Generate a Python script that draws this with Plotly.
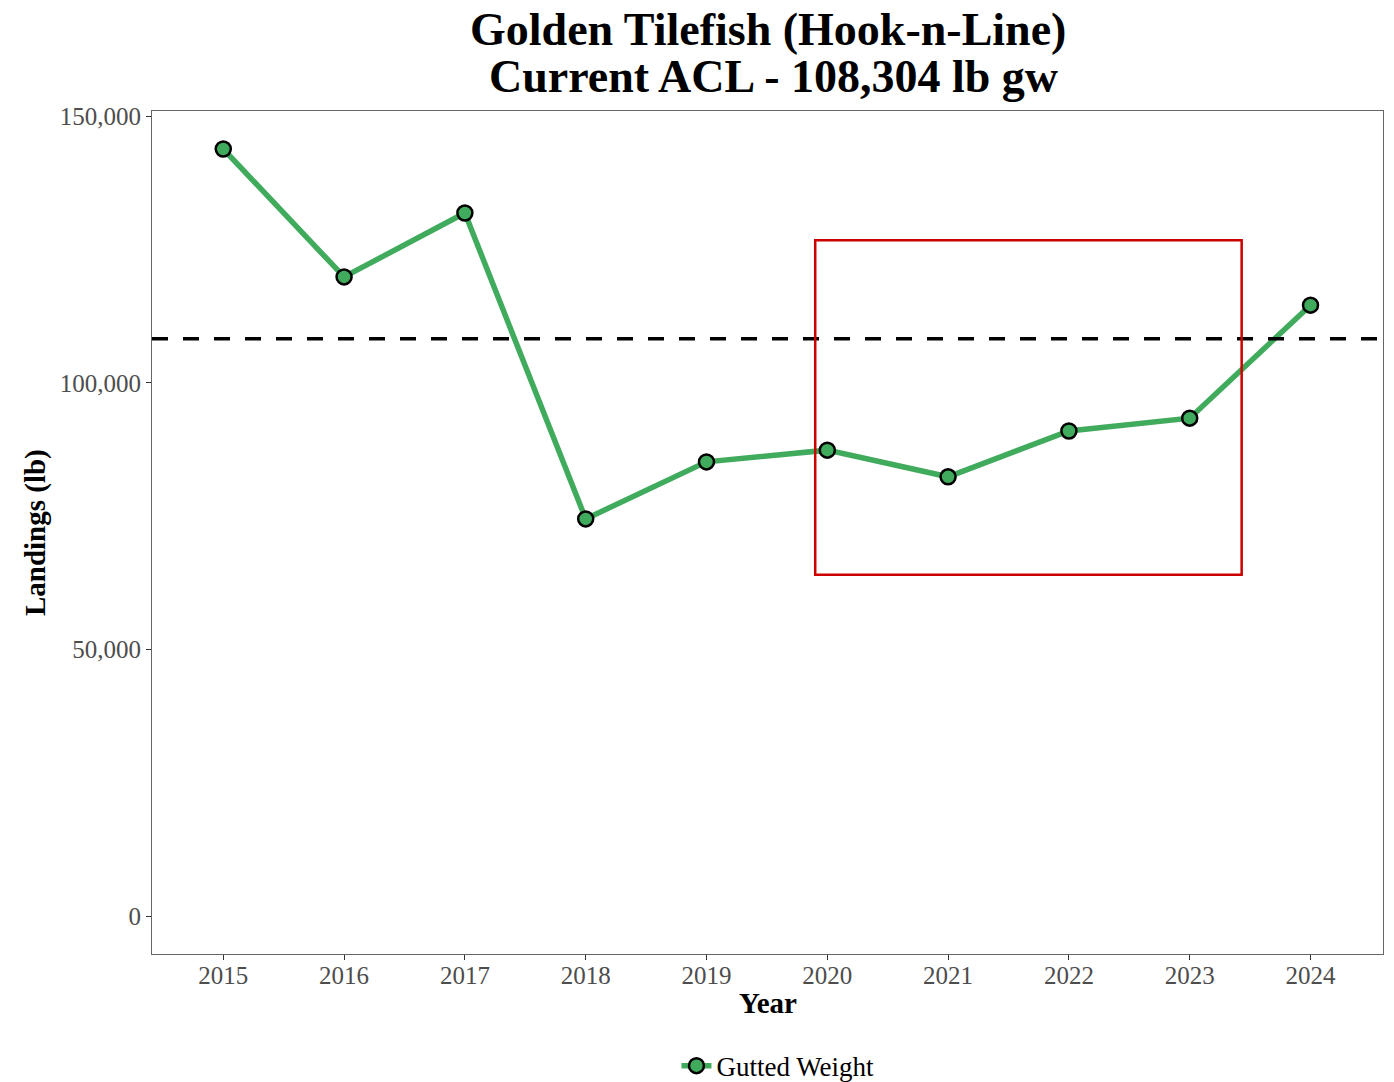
import plotly.graph_objects as go

years = [2015, 2016, 2017, 2018, 2019, 2020, 2021, 2022, 2023, 2024]
gutted_weight = [143900, 119900, 131900, 74500, 85200, 87400, 82400, 91000, 93400, 114600]
acl = 108304
box_years = [2019.9, 2023.43]
box_landings = [64000, 126800]
y_ticks = [0, 50000, 100000, 150000]
y_tick_labels = ["0", "50,000", "100,000", "150,000"]

FONT = "Liberation Serif"

fig = go.Figure()
fig.add_trace(go.Scatter(
    x=years, y=gutted_weight, mode="lines+markers", name="Gutted Weight",
    line=dict(color="#41AB5D", width=5.5),
    marker=dict(size=15, color="#41AB5D", line=dict(color="black", width=2.5)),
))

fig.add_shape(type="line", xref="paper", x0=0, x1=1, yref="y", y0=acl, y1=acl,
              line=dict(color="black", width=3.5, dash="16px,15px"))
fig.add_shape(type="rect", xref="x", yref="y",
              x0=box_years[0], x1=box_years[1], y0=box_landings[0], y1=box_landings[1],
              line=dict(color="#CD0000", width=2.5), fillcolor="rgba(0,0,0,0)")

annotations = [
    dict(text="<b>Golden Tilefish (Hook-n-Line)</b>", x=0.5004, y=1.097,
         font=dict(size=46, family=FONT, color="black")),
    dict(text="<b>Current ACL - 108,304 lb gw</b>", x=0.5045, y=1.0415,
         font=dict(size=46, family=FONT, color="black")),
    dict(text="<b>Year</b>", x=0.5004, y=-0.058,
         font=dict(size=29, family=FONT, color="black")),
    dict(text="<b>Landings (lb)</b>", x=-0.095, y=0.4994, textangle=-90,
         font=dict(size=29, family=FONT, color="black")),
]
for a in annotations:
    a.update(xref="paper", yref="paper", xanchor="center", yanchor="middle", showarrow=False)

fig.update_layout(
    width=1386, height=1074,
    margin=dict(l=144, r=11, t=103, b=128, autoexpand=False),
    paper_bgcolor="white", plot_bgcolor="white",
    font=dict(family=FONT, color="black"),
    annotations=annotations,
    showlegend=True,
    legend=dict(orientation="h", x=0.5085, xanchor="center", y=-0.133, yanchor="middle",
                borderwidth=0, font=dict(size=27, family=FONT, color="black")),
)
fig.update_xaxes(
    range=[2014.41, 2024.6], tickvals=years, ticktext=[str(y) for y in years],
    showgrid=False, zeroline=False, showline=True, linecolor="#666666", linewidth=1,
    mirror=True, ticks="outside", ticklen=5, tickcolor="#333333", automargin=False,
    ticklabelstandoff=-6,
    tickfont=dict(size=25, color="#4D4D4D", family=FONT),
)
fig.update_yaxes(
    range=[-7130, 151030], tickvals=y_ticks, ticktext=y_tick_labels,
    showgrid=False, zeroline=False, showline=True, linecolor="#666666", linewidth=1,
    mirror=True, ticks="outside", ticklen=5, tickcolor="#333333", automargin=False,
    tickfont=dict(size=25, color="#4D4D4D", family=FONT),
)

fig.write_html("out.html")
